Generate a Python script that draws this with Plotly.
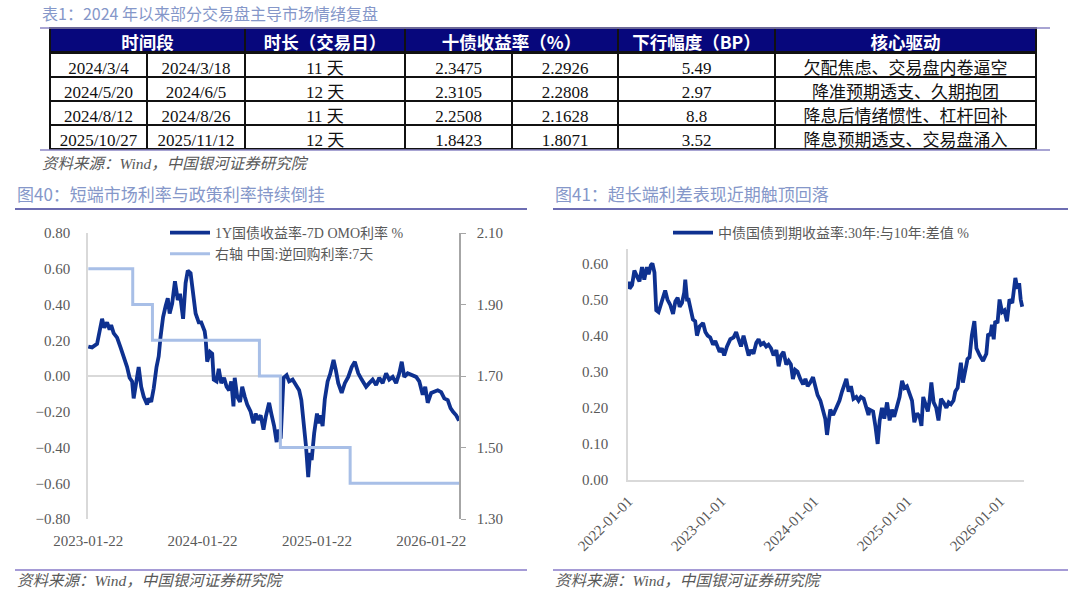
import plotly.graph_objects as go

W, H = 1080, 592

# ---------------- Table data ----------------
header_labels = ["时间段", "时长（交易日）", "十债收益率（%）", "下行幅度（BP）", "核心驱动"]
start_dates = ["2024/3/4", "2024/5/20", "2024/8/12", "2025/10/27"]
end_dates = ["2024/3/18", "2024/6/5", "2024/8/26", "2025/11/12"]
durations = ["11 天", "12 天", "11 天", "12 天"]
yield_start = ["2.3475", "2.3105", "2.2508", "1.8423"]
yield_end = ["2.2926", "2.2808", "2.1628", "1.8071"]
decline_bp = ["5.49", "2.97", "8.8", "3.52"]
drivers = ["欠配焦虑、交易盘内卷逼空", "降准预期透支、久期抱团",
           "降息后情绪惯性、杠杆回补", "降息预期透支、交易盘涌入"]

# ---------------- Fig 40 data ----------------
spread_dates = [
    "2023-01-22", "2023-02-03", "2023-02-19", "2023-03-01", "2023-03-07", "2023-03-14", "2023-03-23", "2023-03-31", "2023-04-05", "2023-04-13",
    "2023-04-24", "2023-05-05", "2023-05-15", "2023-05-26", "2023-06-03", "2023-06-11", "2023-06-16", "2023-06-23", "2023-07-02", "2023-07-10",
    "2023-07-18", "2023-07-29", "2023-08-03", "2023-08-11", "2023-08-19", "2023-08-28", "2023-09-04", "2023-09-10", "2023-09-18", "2023-09-26",
    "2023-10-03", "2023-10-09", "2023-10-17", "2023-10-26", "2023-11-04", "2023-11-11", "2023-11-21", "2023-11-29", "2023-12-06", "2023-12-15",
    "2023-12-23", "2023-12-31", "2024-01-10", "2024-01-18", "2024-01-29", "2024-02-01", "2024-02-06", "2024-02-15", "2024-02-22", "2024-02-27",
    "2024-03-07", "2024-03-14", "2024-03-22", "2024-03-31", "2024-04-08", "2024-04-16", "2024-04-23", "2024-04-30", "2024-05-04", "2024-05-12",
    "2024-05-21", "2024-05-28", "2024-06-05", "2024-06-13", "2024-06-24", "2024-07-03", "2024-07-10", "2024-07-17", "2024-07-26", "2024-08-04",
    "2024-08-11", "2024-08-22", "2024-08-29", "2024-09-07", "2024-09-15", "2024-09-20", "2024-09-28", "2024-10-07", "2024-10-17", "2024-10-25",
    "2024-11-05", "2024-11-15", "2024-11-26", "2024-12-03", "2024-12-12", "2024-12-18", "2024-12-25", "2024-12-31", "2025-01-05", "2025-01-13",
    "2025-01-22", "2025-01-29", "2025-02-02", "2025-02-09", "2025-02-16", "2025-02-25", "2025-03-05", "2025-03-16", "2025-03-23", "2025-03-31",
    "2025-04-11", "2025-04-21", "2025-05-02", "2025-05-13", "2025-05-23", "2025-06-03", "2025-06-14", "2025-06-28", "2025-07-08", "2025-07-19",
    "2025-07-30", "2025-08-09", "2025-08-20", "2025-08-31", "2025-09-10", "2025-09-21", "2025-10-02", "2025-10-12", "2025-10-20", "2025-10-28",
    "2025-11-08", "2025-11-21", "2025-12-05", "2025-12-15", "2025-12-26", "2026-01-03", "2026-01-11", "2026-01-22", "2026-02-01", "2026-02-12",
    "2026-02-23", "2026-03-05", "2026-03-16", "2026-03-25", "2026-04-02", "2026-04-12", "2026-04-21",
]
spread_1y_omo = [
    0.165, 0.16, 0.18, 0.28, 0.32, 0.27, 0.30, 0.26, 0.285, 0.24,
    0.215, 0.16, 0.11, 0.05, -0.01, -0.03, -0.125, -0.04, 0.05, -0.06,
    -0.115, -0.16, -0.125, -0.145, -0.07, 0.05, 0.11, 0.22, 0.33, 0.39,
    0.435, 0.35, 0.405, 0.53, 0.425, 0.46, 0.32, 0.52, 0.59, 0.575,
    0.46, 0.35, 0.30, 0.30, 0.25, 0.21, 0.08, 0.135, 0.125, -0.02,
    -0.03, 0.04, -0.04, -0.01, -0.06, -0.08, -0.03, -0.17, -0.01, -0.115,
    -0.145, -0.06, -0.115, -0.16, -0.20, -0.265, -0.21, -0.245, -0.22, -0.30,
    -0.23, -0.15, -0.21, -0.28, -0.37, -0.30, -0.35, -0.01, 0.005, -0.03,
    -0.02, -0.05, -0.08, -0.135, -0.265, -0.395, -0.565, -0.43, -0.47, -0.32,
    -0.21, -0.265, -0.22, -0.28, -0.13, -0.03, 0.01, 0.09, 0.035, -0.04,
    -0.095, -0.04, -0.005, 0.05, 0.08, 0.015, -0.02, -0.06, -0.04, -0.02,
    -0.05, -0.01, -0.04, 0.015, -0.02, -0.005, -0.04, 0.015, 0.08, -0.005,
    0.015, 0.005, -0.005, -0.03, -0.105, -0.06, -0.15, -0.095, -0.09, -0.08,
    -0.09, -0.125, -0.135, -0.18, -0.20, -0.22, -0.25,
]
repo_dates = ["2023-01-22", "2023-06-13", "2023-08-15", "2024-07-22", "2024-09-27", "2025-05-08", "2026-04-21"]
repo_rate = [2.00, 1.90, 1.80, 1.70, 1.50, 1.40, 1.40]
left_ticks = ["2023-01-22", "2024-01-22", "2025-01-22", "2026-01-22"]

# ---------------- Fig 41 data ----------------
term_dates = [
    "2022-01-04", "2022-01-06", "2022-01-16", "2022-01-25", "2022-02-07", "2022-02-14", "2022-02-24", "2022-03-05", "2022-03-15", "2022-03-22",
    "2022-03-31", "2022-04-06", "2022-04-14", "2022-04-21", "2022-04-30", "2022-05-10", "2022-05-20", "2022-05-26", "2022-06-04", "2022-06-15",
    "2022-06-26", "2022-07-05", "2022-07-14", "2022-07-22", "2022-07-31", "2022-08-09", "2022-08-13", "2022-08-20", "2022-08-26", "2022-09-04",
    "2022-09-12", "2022-09-21", "2022-09-28", "2022-10-08", "2022-10-22", "2022-10-31", "2022-11-09", "2022-11-19", "2022-11-30", "2022-12-09",
    "2022-12-18", "2022-12-26", "2023-01-04", "2023-01-13", "2023-01-24", "2023-02-06", "2023-02-19", "2023-03-01", "2023-03-10", "2023-03-20",
    "2023-03-30", "2023-04-10", "2023-04-19", "2023-04-28", "2023-05-08", "2023-05-19", "2023-05-28", "2023-06-06", "2023-06-17", "2023-06-27",
    "2023-07-06", "2023-07-16", "2023-07-26", "2023-08-06", "2023-08-15", "2023-08-24", "2023-09-03", "2023-09-14", "2023-09-23", "2023-10-02",
    "2023-10-10", "2023-10-19", "2023-10-28", "2023-11-08", "2023-11-19", "2023-11-28", "2023-12-07", "2023-12-17", "2023-12-28", "2024-01-06",
    "2024-01-15", "2024-01-26", "2024-02-05", "2024-02-14", "2024-02-21", "2024-02-27", "2024-03-05", "2024-03-16", "2024-03-25", "2024-04-03",
    "2024-04-10", "2024-04-20", "2024-04-29", "2024-05-07", "2024-05-16", "2024-05-25", "2024-06-04", "2024-06-15", "2024-06-24", "2024-07-03",
    "2024-07-14", "2024-07-24", "2024-08-02", "2024-08-06", "2024-08-20", "2024-08-29", "2024-09-07", "2024-09-15", "2024-09-24", "2024-10-03",
    "2024-10-14", "2024-10-24", "2024-11-02", "2024-11-11", "2024-11-22", "2024-12-02", "2024-12-12", "2024-12-21", "2024-12-31", "2025-01-11",
    "2025-01-20", "2025-01-29", "2025-02-09", "2025-02-19", "2025-02-26", "2025-03-05", "2025-03-14", "2025-03-23", "2025-03-30", "2025-04-06",
    "2025-04-15", "2025-04-25", "2025-05-04", "2025-05-14", "2025-05-24", "2025-06-04", "2025-06-13", "2025-06-22", "2025-07-02", "2025-07-09",
    "2025-07-18", "2025-07-26", "2025-07-31", "2025-08-08", "2025-08-17", "2025-08-26", "2025-09-03", "2025-09-12", "2025-09-22", "2025-09-30",
    "2025-10-13", "2025-10-26", "2025-11-08", "2025-11-15", "2025-11-24", "2025-11-30", "2025-12-07", "2025-12-13", "2025-12-22", "2025-12-30",
    "2026-01-09", "2026-01-18", "2026-01-28", "2026-02-07", "2026-02-18", "2026-03-02", "2026-03-10", "2026-03-17", "2026-03-23", "2026-03-29",
]
spread_30y_10y = [
    0.55, 0.53, 0.54, 0.58, 0.56, 0.55, 0.59, 0.555, 0.59, 0.57,
    0.595, 0.60, 0.575, 0.47, 0.465, 0.49, 0.51, 0.525, 0.50, 0.485,
    0.46, 0.495, 0.505, 0.48, 0.49, 0.52, 0.555, 0.50, 0.50, 0.47,
    0.445, 0.44, 0.40, 0.425, 0.435, 0.41, 0.40, 0.395, 0.375, 0.385,
    0.37, 0.355, 0.365, 0.345, 0.37, 0.39, 0.395, 0.41, 0.39, 0.37,
    0.40, 0.37, 0.345, 0.36, 0.35, 0.38, 0.39, 0.375, 0.38, 0.37,
    0.375, 0.365, 0.345, 0.36, 0.315, 0.345, 0.355, 0.32, 0.33, 0.32,
    0.28, 0.305, 0.30, 0.28, 0.265, 0.28, 0.26, 0.27, 0.285, 0.26,
    0.235, 0.22, 0.195, 0.17, 0.125, 0.17, 0.195, 0.18, 0.195, 0.205,
    0.22, 0.245, 0.265, 0.28, 0.245, 0.26, 0.225, 0.23, 0.22, 0.23,
    0.225, 0.20, 0.18, 0.195, 0.19, 0.15, 0.10, 0.165, 0.20, 0.17,
    0.215, 0.165, 0.195, 0.175, 0.205, 0.23, 0.275, 0.255, 0.26, 0.24,
    0.22, 0.16, 0.185, 0.175, 0.15, 0.23, 0.205, 0.19, 0.22, 0.27,
    0.215, 0.20, 0.165, 0.225, 0.215, 0.20, 0.215, 0.21, 0.22, 0.245,
    0.255, 0.295, 0.325, 0.27, 0.305, 0.335, 0.34, 0.40, 0.44, 0.365,
    0.345, 0.33, 0.35, 0.405, 0.40, 0.43, 0.39, 0.44, 0.435, 0.50,
    0.465, 0.47, 0.44, 0.50, 0.49, 0.56, 0.53, 0.545, 0.50, 0.48,
]
right_ticks = ["2022-01-01", "2023-01-01", "2024-01-01", "2025-01-01", "2026-01-01"]

assert len(spread_dates) == len(spread_1y_omo)
assert len(term_dates) == len(spread_30y_10y)

# ---------------- Styles ----------------
DARK = "#0E3190"
LIGHT = "#A8BFE7"
NAVY = "#07077C"
TITLE_C = "#8597C9"
TEXT_C = "#595959"
SERIF = "Liberation Serif, Noto Sans CJK SC"
CJK = "Noto Sans CJK SC"
TICKFONT = dict(family="Liberation Serif", size=15, color=TEXT_C)
EMPTY_HEADER = 15  # height plotly gives to a table without header row


def px(x):
    return x / W


def py(y):
    return 1 - y / H


fig = go.Figure()

# ---- table body (drawn first; its empty header hides under the header table) ----
fig.add_trace(go.Table(
    domain=dict(x=[px(50), px(1036)], y=[py(150), py(52 - EMPTY_HEADER)]),
    columnwidth=[97, 98, 160, 107, 106, 157, 261],
    header=dict(values=[], fill_color=NAVY, line=dict(width=0)),
    cells=dict(values=[start_dates, end_dates, durations, yield_start, yield_end, decline_bp, drivers],
               height=24, align="center", fill_color="white",
               line=dict(color="#111111", width=1.5),
               font=dict(family=SERIF, size=17, color="#111111")),
))
# ---- table header row (merged header cells) ----
fig.add_trace(go.Table(
    domain=dict(x=[px(50), px(1036)], y=[py(54), py(28)]),
    columnwidth=[195, 160, 213, 157, 261],
    header=dict(values=header_labels, height=24,
                fill_color=NAVY, line=dict(color="#111111", width=1.5),
                font=dict(family=CJK, size=17.5, color="white", weight="bold"),
                align="center"),
    cells=dict(values=[[""] for _ in header_labels], height=1,
               fill_color="rgba(0,0,0,0)", line=dict(width=0)),
))

# ---- Fig 40 ----
fig.add_trace(go.Scatter(
    x=repo_dates, y=repo_rate, mode="lines", name="右轴 中国:逆回购利率:7天",
    line=dict(color=LIGHT, width=3, shape="hv"), xaxis="x", yaxis="y2",
    legend="legend", legendrank=2, hoverinfo="skip"))
fig.add_trace(go.Scatter(
    x=spread_dates, y=spread_1y_omo, mode="lines", name="1Y国债收益率-7D OMO利率 %",
    line=dict(color=DARK, width=3.8), xaxis="x", yaxis="y",
    legend="legend", legendrank=1, hoverinfo="skip"))

# ---- Fig 41 ----
fig.add_trace(go.Scatter(
    x=term_dates, y=spread_30y_10y, mode="lines", name="中债国债到期收益率:30年:与10年:差值 %",
    line=dict(color=DARK, width=3.8), xaxis="x2", yaxis="y3",
    legend="legend2", hoverinfo="skip"))

legend_common = dict(xanchor="left", yanchor="top", bgcolor="rgba(0,0,0,0)",
                     font=dict(family=SERIF, size=14, color=TEXT_C), itemwidth=40,
                     tracegroupgap=0)

fig.update_layout(
    width=W, height=H, autosize=False,
    margin=dict(l=0, r=0, t=0, b=0, pad=0, autoexpand=False),
    paper_bgcolor="white", plot_bgcolor="white",
    showlegend=True,
    legend=dict(x=px(165), y=py(217), **legend_common),
    legend2=dict(x=px(668), y=py(217), **legend_common),
    xaxis=dict(domain=[px(88), px(459)], anchor="y", type="date",
               range=["2023-01-21", "2026-04-21"], tickmode="array",
               tickvals=left_ticks, ticktext=left_ticks, showgrid=False,
               showline=False, zeroline=False, ticks="outside", ticklen=8,
               tickcolor="rgba(0,0,0,0)", tickfont=TICKFONT, automargin=False),
    yaxis=dict(domain=[py(519), py(233)], anchor="x", range=[-0.8, 0.8],
               tickmode="linear", tick0=0, dtick=0.2, tickformat=".2f",
               showgrid=False, zeroline=True, zerolinecolor="#D9D9D9",
               zerolinewidth=1.5, showline=True, linecolor="#D9D9D9",
               linewidth=1.5, ticks="outside", ticklen=13,
               tickcolor="rgba(0,0,0,0)", tickfont=TICKFONT, automargin=False),
    yaxis2=dict(overlaying="y", side="right", anchor="x", range=[1.3, 2.1],
                tickmode="linear", tick0=1.3, dtick=0.2, tickformat=".2f",
                showgrid=False, zeroline=False, showline=True,
                linecolor="#A6A6A6", linewidth=1.5, ticks="outside",
                ticklen=5, tickcolor="#A6A6A6", ticklabelstandoff=8,
                tickfont=TICKFONT, automargin=False),
    xaxis2=dict(domain=[px(628), px(1024)], anchor="y3", type="date",
                range=["2021-12-31", "2026-04-05"], tickmode="array",
                tickvals=right_ticks, ticktext=right_ticks, tickangle=-45,
                showgrid=False, zeroline=False, showline=True,
                linecolor="#D9D9D9", linewidth=1.5, ticks="outside",
                ticklen=5, tickcolor="rgba(0,0,0,0)", tickfont=TICKFONT,
                automargin=False),
    yaxis3=dict(domain=[py(480), py(249)], anchor="x2", range=[0, 0.64],
                tickmode="linear", tick0=0, dtick=0.1, tickformat=".2f",
                showgrid=False, zeroline=False, showline=True,
                linecolor="#D9D9D9", linewidth=1.5, ticks="outside",
                ticklen=15, tickcolor="rgba(0,0,0,0)", tickfont=TICKFONT,
                automargin=False),
)

# ---- decorative rules ----
rules = [
    (40, 1050, 28, "#8B86C4", 1.5),
    (40, 1050, 150, "#8B86C4", 1.5),
    (15, 527, 209, "#3D3D99", 1.5),
    (553, 1068, 209, "#3D3D99", 1.5),
    (15, 527, 570, "#A59BD6", 2),
    (553, 1068, 570, "#A59BD6", 2),
]
for x0, x1, yy, col, wdt in rules:
    fig.add_shape(type="line", xref="paper", yref="paper", x0=px(x0), x1=px(x1),
                  y0=py(yy), y1=py(yy), line=dict(color=col, width=wdt))

# ---- texts ----
texts = [
    ("表1：2024 年以来部分交易盘主导市场情绪复盘", 40, 13, TITLE_C, 16, False),
    ("资料来源：Wind，中国银河证券研究院", 40, 163, TEXT_C, 15.5, True),
    ("图40：短端市场利率与政策利率持续倒挂", 15, 194, TITLE_C, 17, False),
    ("图41：超长端利差表现近期触顶回落", 553, 194, TITLE_C, 17, False),
    ("资料来源：Wind，中国银河证券研究院", 15, 580, TEXT_C, 15.5, True),
    ("资料来源：Wind，中国银河证券研究院", 553, 580, TEXT_C, 15.5, True),
]
for t, x, yy, col, sz, ital in texts:
    fig.add_annotation(text=(f"<i>{t}</i>" if ital else t), xref="paper", yref="paper",
                       x=px(x), y=py(yy), xanchor="left", yanchor="middle",
                       showarrow=False,
                       font=dict(family="Liberation Serif, " + CJK if ital else CJK,
                                 size=sz, color=col))

fig.write_html("out.html")
